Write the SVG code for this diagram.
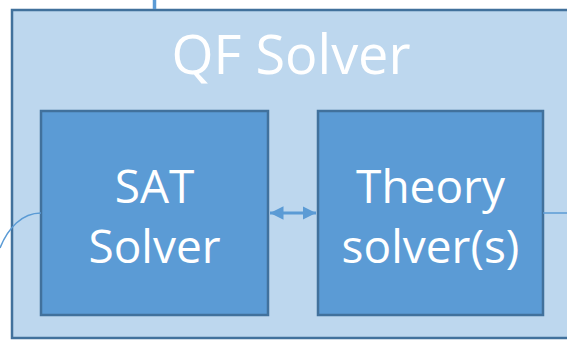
<svg xmlns="http://www.w3.org/2000/svg" width="567" height="340" viewBox="0 0 567 340">
  <defs>
    <style>
      .frame { fill: #BDD7EE; stroke: #41719C; stroke-width: 2.5; }
      .box { fill: #5B9BD5; stroke: #41719C; stroke-width: 2.5; }
      .wire { fill: none; stroke: #5B9BD5; }
      .label { font-family: "Open Sans", "Liberation Sans", sans-serif; fill: #FFFFFF; text-anchor: middle; }
    </style>
    <marker id="head" viewBox="0 0 10 10" refX="10" refY="5" markerWidth="4.5" markerHeight="4.5" orient="auto-start-reverse" markerUnits="strokeWidth">
      <path d="M0,0 L10,5 L0,10 z" fill="#5B9BD5"/>
    </marker>
  </defs>

  <!-- outer solver container -->
  <g id="qf-solver">
    <rect class="frame" x="12" y="10" width="580" height="328"/>
    <text class="label" x="291" y="74" font-size="54">QF Solver</text>
  </g>

  <g id="sat-solver">
    <rect class="box" x="41" y="111" width="227" height="204"/>
    <text class="label" x="154.5" y="203" font-size="46">SAT</text>
    <text class="label" x="154.5" y="263" font-size="46">Solver</text>
  </g>

  <g id="theory-solver">
    <rect class="box" x="318" y="111" width="225" height="204"/>
    <text class="label" x="430.5" y="203" font-size="46">Theory</text>
    <text class="label" x="430.5" y="263" font-size="46">solver(s)</text>
  </g>

  <g id="connectors">
    <line class="wire" x1="154.5" y1="0" x2="154.5" y2="9" stroke-width="3.5"/>
    <line class="wire" x1="270" y1="213" x2="316" y2="213" stroke-width="3" marker-start="url(#head)" marker-end="url(#head)"/>
    <path class="wire" d="M41,213 C22,213 8,228 0,248" stroke-width="1.5"/>
    <line class="wire" x1="543" y1="213" x2="567" y2="213" stroke-width="1.5"/>
  </g>
</svg>
